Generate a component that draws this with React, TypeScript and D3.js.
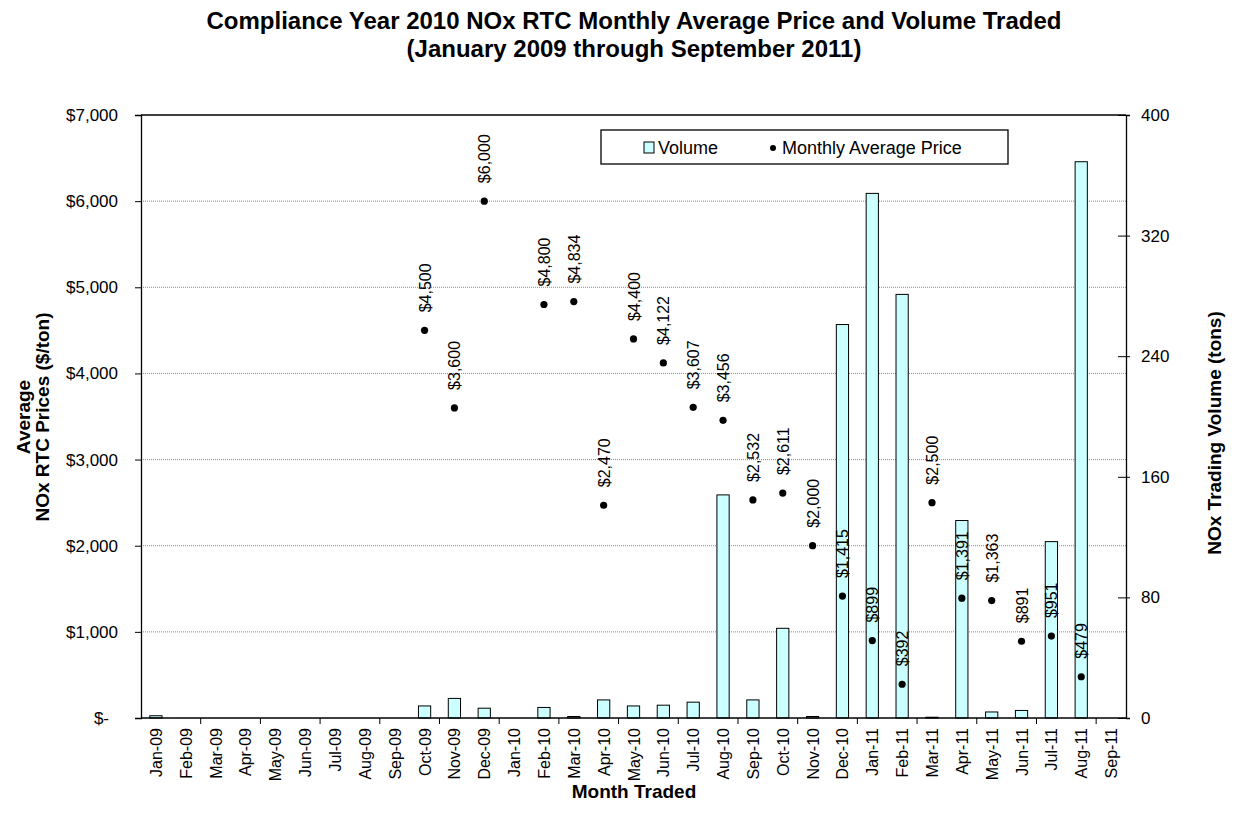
import React, { useEffect, useRef } from "react";
import * as d3 from "d3";

const months = [
  "Jan-09", "Feb-09", "Mar-09", "Apr-09", "May-09", "Jun-09", "Jul-09", "Aug-09", "Sep-09",
  "Oct-09", "Nov-09", "Dec-09", "Jan-10", "Feb-10", "Mar-10", "Apr-10", "May-10", "Jun-10",
  "Jul-10", "Aug-10", "Sep-10", "Oct-10", "Nov-10", "Dec-10", "Jan-11", "Feb-11", "Mar-11",
  "Apr-11", "May-11", "Jun-11", "Jul-11", "Aug-11", "Sep-11",
];

// tons traded per month (right axis)
const volume = [
  1.5, 0, 0, 0, 0, 0, 0, 0, 0,
  8, 13, 6.5, 0, 7, 1, 12, 8, 8.5,
  10.5, 148, 12, 59.5, 1, 261, 348, 281, 0.5,
  131, 4, 5, 117, 369, 0,
];

// monthly average price, $/ton (left axis)
const price: (number | null)[] = [
  null, null, null, null, null, null, null, null, null,
  4500, 3600, 6000, null, 4800, 4834, 2470, 4400, 4122,
  3607, 3456, 2532, 2611, 2000, 1415, 899, 392, 2500,
  1391, 1363, 891, 951, 479, null,
];

const priceTicks = [0, 1000, 2000, 3000, 4000, 5000, 6000, 7000];
const volumeTicks = [0, 80, 160, 240, 320, 400];

const FONT = "'Liberation Sans', Arial, sans-serif";

const App: React.FC = () => {
  const svgRef = useRef<SVGSVGElement>(null);

  useEffect(() => {
    document.body.style.margin = "0";
    const svg = d3.select(svgRef.current).attr("width", 1238).attr("height", 827);
    svg.selectAll("*").remove();

    const margin = { top: 115, right: 112, bottom: 109, left: 141 };
    const width = 1238 - margin.left - margin.right;
    const height = 827 - margin.top - margin.bottom;

    const x = d3.scaleBand().domain(months).range([0, width]).padding(0);
    const yL = d3.scaleLinear().domain([0, 7000]).range([height, 0]);
    const yR = d3.scaleLinear().domain([0, 400]).range([height, 0]);

    const g = svg
      .append("g")
      .attr("transform", `translate(${margin.left},${margin.top})`)
      .style("font-family", FONT);

    // gridlines
    g.selectAll("line.grid")
      .data(priceTicks.filter((t) => t > 0 && t < 7000))
      .enter()
      .append("line")
      .attr("x1", 0)
      .attr("x2", width)
      .attr("y1", (d) => yL(d))
      .attr("y2", (d) => yL(d))
      .attr("stroke", "#8c8c8c")
      .attr("stroke-width", 1)
      .attr("stroke-dasharray", "1,1");

    // bars
    const bw = x.bandwidth() * 0.41;
    g.selectAll("rect.bar")
      .data(months.map((m, i) => ({ m, v: volume[i] })).filter((d) => d.v > 0))
      .enter()
      .append("rect")
      .attr("x", (d) => (x(d.m) as number) + (x.bandwidth() - bw) / 2)
      .attr("y", (d) => yR(d.v))
      .attr("width", bw)
      .attr("height", (d) => height - yR(d.v))
      .attr("fill", "#ccffff")
      .attr("stroke", "#000")
      .attr("stroke-width", 1);

    // left axis
    const yAxisL = d3
      .axisLeft(yL)
      .tickValues(priceTicks)
      .tickSize(6)
      .tickPadding(17)
      .tickFormat((d) => (+d === 0 ? "$-" : d3.format("$,")(d as number)));
    const gl = g.append("g").call(yAxisL);
    gl.select(".domain").attr("stroke", "#000").attr("stroke-width", 1.3);
    gl.selectAll(".tick text").attr("font-size", 17).attr("font-family", FONT).attr("fill", "#000");
    gl.selectAll<SVGTextElement, number>(".tick text")
      .filter((d) => d === 0)
      .attr("x", -32);

    // right axis
    const yAxisR = d3.axisRight(yR).tickValues(volumeTicks).tickSize(4).tickPadding(11);
    const gr = g.append("g").attr("transform", `translate(${width},0)`).call(yAxisR);
    gr.select(".domain").attr("stroke", "#000").attr("stroke-width", 1.3);
    gr.selectAll(".tick line").attr("x1", -8);
    gr.selectAll(".tick text").attr("font-size", 17).attr("font-family", FONT).attr("fill", "#000");

    // top border
    g.append("line")
      .attr("x1", 0)
      .attr("x2", width)
      .attr("y1", 0)
      .attr("y2", 0)
      .attr("stroke", "#000")
      .attr("stroke-width", 1.3);

    // x axis
    g.append("line")
      .attr("x1", 0)
      .attr("x2", width)
      .attr("y1", height)
      .attr("y2", height)
      .attr("stroke", "#000")
      .attr("stroke-width", 1.3);
    g.selectAll("line.xtick")
      .data(months.filter((_, i) => i % 2 === 0 && i > 0))
      .enter()
      .append("line")
      .attr("x1", (d) => x(d) as number)
      .attr("x2", (d) => x(d) as number)
      .attr("y1", height)
      .attr("y2", height + 6)
      .attr("stroke", "#000");
    g.selectAll("text.month")
      .data(months)
      .enter()
      .append("text")
      .attr(
        "transform",
        (d) => `translate(${(x(d) as number) + x.bandwidth() / 2 + 6},${height + 10}) rotate(-90)`
      )
      .attr("text-anchor", "end")
      .attr("font-size", 16)
      .text((d) => d);

    // price dots and labels
    const pts = months
      .map((m, i) => ({ m, p: price[i] }))
      .filter((d) => d.p !== null) as { m: string; p: number }[];
    g.selectAll("circle.price")
      .data(pts)
      .enter()
      .append("circle")
      .attr("cx", (d) => (x(d.m) as number) + x.bandwidth() / 2)
      .attr("cy", (d) => yL(d.p))
      .attr("r", 3.6)
      .attr("fill", "#000");
    g.selectAll("text.plabel")
      .data(pts)
      .enter()
      .append("text")
      .attr(
        "transform",
        (d) =>
          `translate(${(x(d.m) as number) + x.bandwidth() / 2 + 6},${yL(d.p) - 18}) rotate(-90)`
      )
      .attr("font-size", 16)
      .text((d) => d3.format("$,")(d.p));

    // legend
    const lg = svg.append("g").style("font-family", FONT);
    lg.append("rect")
      .attr("x", 601)
      .attr("y", 130)
      .attr("width", 407)
      .attr("height", 34)
      .attr("fill", "#fff")
      .attr("stroke", "#000")
      .attr("stroke-width", 1.3);
    lg.append("rect")
      .attr("x", 644)
      .attr("y", 142)
      .attr("width", 10)
      .attr("height", 11)
      .attr("fill", "#ccffff")
      .attr("stroke", "#000");
    lg.append("text").attr("x", 658).attr("y", 154).attr("font-size", 18).text("Volume");
    lg.append("circle").attr("cx", 773).attr("cy", 148).attr("r", 3).attr("fill", "#000");
    lg.append("text")
      .attr("x", 782)
      .attr("y", 154)
      .attr("font-size", 18)
      .text("Monthly Average Price");

    // titles
    const tg = svg.append("g").style("font-family", FONT).attr("font-weight", "bold");
    tg.append("text")
      .attr("x", 634)
      .attr("y", 29)
      .attr("text-anchor", "middle")
      .attr("font-size", 24)
      .text("Compliance Year 2010 NOx RTC Monthly Average Price and Volume Traded");
    tg.append("text")
      .attr("x", 634)
      .attr("y", 57)
      .attr("text-anchor", "middle")
      .attr("font-size", 24)
      .text("(January 2009 through September 2011)");
    tg.append("text")
      .attr("x", 634)
      .attr("y", 798)
      .attr("text-anchor", "middle")
      .attr("font-size", 19)
      .text("Month Traded");
    tg.append("text")
      .attr("transform", "translate(30,417) rotate(-90)")
      .attr("text-anchor", "middle")
      .attr("font-size", 19)
      .text("Average");
    tg.append("text")
      .attr("transform", "translate(49,417) rotate(-90)")
      .attr("text-anchor", "middle")
      .attr("font-size", 19)
      .text("NOx RTC Prices ($/ton)");
    tg.append("text")
      .attr("transform", "translate(1221,433) rotate(-90)")
      .attr("text-anchor", "middle")
      .attr("font-size", 19)
      .text("NOx Trading Volume (tons)");
  });

  return <svg ref={svgRef}></svg>;
};

export default App;
